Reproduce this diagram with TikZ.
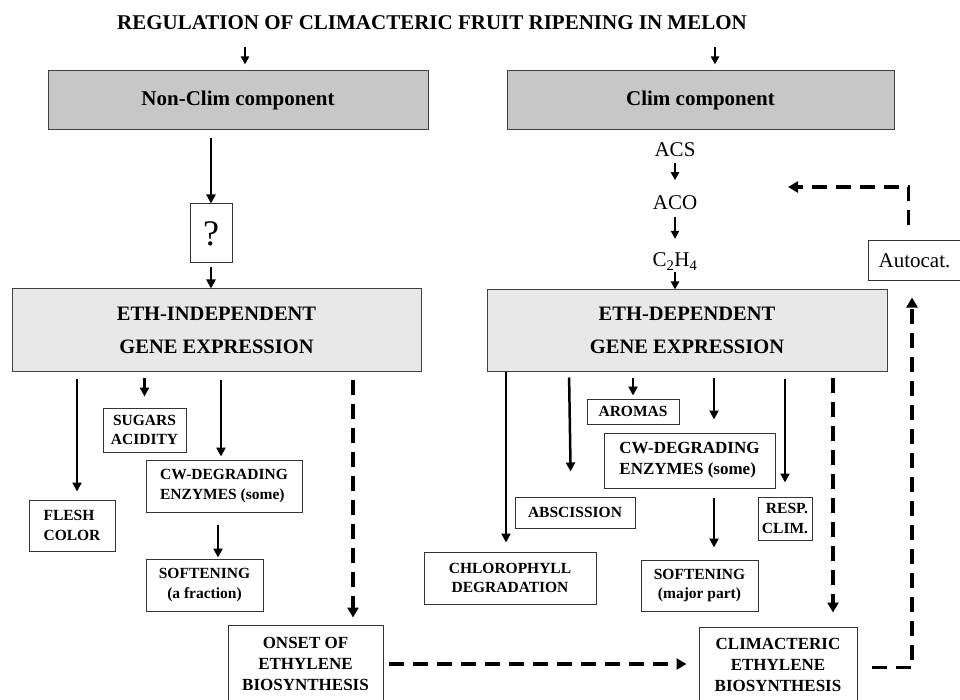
\documentclass[tikz,border=0pt]{standalone}
\usepackage{fontspec}
\setmainfont{Liberation Serif}
\usetikzlibrary{arrows.meta,calc}

\begin{document}
\begin{tikzpicture}[x=1pt,y=-1pt]
	\tikzstyle{every node}+=[inner sep=0pt]
	\tikzstyle{comp}=[draw=black!75, line width=1pt, fill=black!22, font=\fontsize{21}{25}\selectfont\bfseries]
	\tikzstyle{gene}=[draw=black!75, line width=1pt, fill=black!9, align=center, font=\fontsize{20.5}{33}\selectfont\bfseries]
	\tikzstyle{res}=[draw=black!80, line width=1pt, fill=white, align=center, font=\fontsize{15.5}{19.5}\selectfont\bfseries]
	\tikzstyle{big}=[res, font=\fontsize{17}{21}\selectfont\bfseries]
	\tikzstyle{plain}=[font=\fontsize{21}{25}\selectfont]
	\tikzstyle{arr}=[line width=2.5pt, -{Triangle[width=9pt,length=9pt]}]
	\tikzstyle{sarr}=[line width=2.2pt, -{Triangle[width=8pt,length=8pt]}]
	\tikzstyle{darr}=[line width=3.5pt, dash pattern=on 15pt off 9pt, -{Triangle[width=11pt,length=10pt]}]
	\useasboundingbox (0,0) rectangle (960,700);
	% top part
	\node (title) at (432,23) {\fontsize{21}{25}\selectfont\bfseries REGULATION OF CLIMACTERIC FRUIT RIPENING IN MELON};
	\coordinate (tl) at (245,47);
	\coordinate (tr) at (715,47);
	\node[comp, minimum width=380pt, minimum height=59pt] (nonclim) at (238,100.5) {\raisebox{-6pt}{Non-Clim component}};
	\node[comp, minimum width=387pt, minimum height=59pt] (clim) at (700.5,100.5) {\raisebox{-6pt}{Clim component}};
	\draw[sarr, shorten >=6pt] (tl) -- (tl |- nonclim.north);
	\draw[sarr, shorten >=6pt] (tr) -- (tr |- clim.north);
	% left branch
	\node[draw=black!80, line width=1pt, minimum width=42pt, minimum height=59pt, font=\fontsize{36}{40}\selectfont] (q) at (211,233.5) {?};
	\node[gene, minimum width=409pt, minimum height=82pt] (ethind) at (216.5,330) {ETH-INDEPENDENT\\GENE EXPRESSION};
	\draw[arr, shorten <=8pt] (nonclim.south -| q.north) -- (q.north);
	\draw[arr, shorten <=4pt] (q.south) -- (q.south |- ethind.north);
	% right branch
	\node[plain] (acs) at (675,149.5) {ACS};
	\node[plain] (aco) at (675,202.5) {ACO};
	\node[plain, anchor=base] (ethy) at (675,267) {C\textsubscript{2}H\textsubscript{4}};
	\node[gene, minimum width=400pt, minimum height=81pt] (ethdep) at (687,330.5) {ETH-DEPENDENT\\GENE EXPRESSION};
	\draw[sarr, shorten <=6pt, shorten >=15pt] (acs.south) -- (aco.north);
	\draw[sarr, shorten <=7pt, shorten >=14pt] (aco.south) -- (aco.south |- ethy.north);
	\draw[sarr, shorten <=2pt] (ethy.south) -- (ethy.south |- ethdep.north);
	\node[draw=black!80, line width=1pt, fill=white, minimum width=93pt, minimum height=40pt, plain] (autocat) at (914.5,261) {Autocat.};
	\coordinate (loop) at (788,187);
	\draw[darr] ($(autocat.north)+(-6,-15)$) |- (loop);
	% ETH-independent results
	\node[res, minimum width=86pt, minimum height=51pt, align=left] (flesh) at (72,525.5) {FLESH\\COLOR};
	\node[res, minimum width=83pt, minimum height=44pt] (sugars) at (144.5,430) {SUGARS\\ACIDITY};
	\node[res, minimum width=156pt, minimum height=52pt, align=left] (cwind) at (224,486) {CW-DEGRADING\\ENZYMES (some)};
	\node[res, minimum width=117pt, minimum height=52pt] (softind) at (204.5,585) {SOFTENING\\(a fraction)};
	\node[big, minimum width=155pt, minimum height=78pt] (onset) at (305.5,664) {ONSET OF\\ETHYLENE\\BIOSYNTHESIS};
	\draw[arr, shorten <=7pt] ($(ethind.south -| flesh.north)+(5,0)$) -- ($(flesh.north)+(5,-8)$);
	\draw[arr, shorten <=6pt, shorten >=11pt] (ethind.south -| sugars.north) -- (sugars.north);
	\draw[arr, shorten <=8pt, shorten >=3pt] ($(ethind.south -| cwind.north)+(-3,0)$) -- ($(cwind.north)+(-3,0)$);
	\draw[arr, shorten <=12pt, shorten >=1pt] ($(cwind.south)+(-6,0)$) -- ($(cwind.south |- softind.north)+(-6,0)$);
	\draw[darr, shorten <=8pt, shorten >=7pt] ($(ethind.south -| onset.north)+(47.5,0)$) -- ($(onset.north)+(47.5,0)$);
	% ETH-dependent results
	\node[res, minimum width=172pt, minimum height=52pt] (chloro) at (510,578) {CHLOROPHYLL\\DEGRADATION};
	\node[res, minimum width=120pt, minimum height=31pt] (absc) at (575,512.5) {ABSCISSION};
	\node[res, minimum width=92pt, minimum height=25pt] (aromas) at (633,411.5) {AROMAS};
	\node[big, minimum width=171pt, minimum height=55pt, align=left] (cwdep) at (689.5,460.5) {CW-DEGRADING\\ENZYMES (some)};
	\node[res, minimum width=117pt, minimum height=51pt] (softdep) at (699.5,585.5) {SOFTENING\\(major part)};
	\node[res, minimum width=54pt, minimum height=43pt, align=right] (resp) at (785,518.5) {RESP.\\CLIM.};
	\node[big, minimum width=158pt, minimum height=75pt] (climeth) at (778,664.5) {CLIMACTERIC\\ETHYLENE\\BIOSYNTHESIS};
	\draw[arr, shorten >=9pt] ($(ethdep.south -| chloro.north)+(-4,0)$) -- ($(chloro.north)+(-4,0)$);
	\draw[arr, shorten <=6pt, shorten >=25pt] ($(ethdep.south -| absc.north)+(-6,0)$) -- ($(absc.north)+(-4,0)$);
	\draw[arr, shorten <=6pt, shorten >=3pt] (ethdep.south -| aromas.north) -- (aromas.north);
	\draw[arr, shorten <=6pt, shorten >=13pt] ($(ethdep.south -| cwdep.north)+(24.5,0)$) -- ($(cwdep.north)+(24.5,0)$);
	\draw[arr, shorten <=9pt, shorten >=12pt] ($(cwdep.south)+(24.5,0)$) -- ($(cwdep.south |- softdep.north)+(24.5,0)$);
	\draw[arr, shorten <=7pt, shorten >=14pt] (ethdep.south -| resp.north) -- (resp.north);
	\draw[darr, shorten <=6pt, shorten >=14pt] ($(ethdep.south -| climeth.north)+(55,0)$) -- ($(climeth.north)+(55,0)$);
	% ethylene loop
	\draw[darr, shorten <=5pt, shorten >=12pt] (onset.east) -- (onset.east -| climeth.west);
	\draw[darr, shorten >=16pt] ($(climeth.east)+(14,3)$) -| ([xshift=-2.5pt]autocat.south);
\end{tikzpicture}
\end{document}
